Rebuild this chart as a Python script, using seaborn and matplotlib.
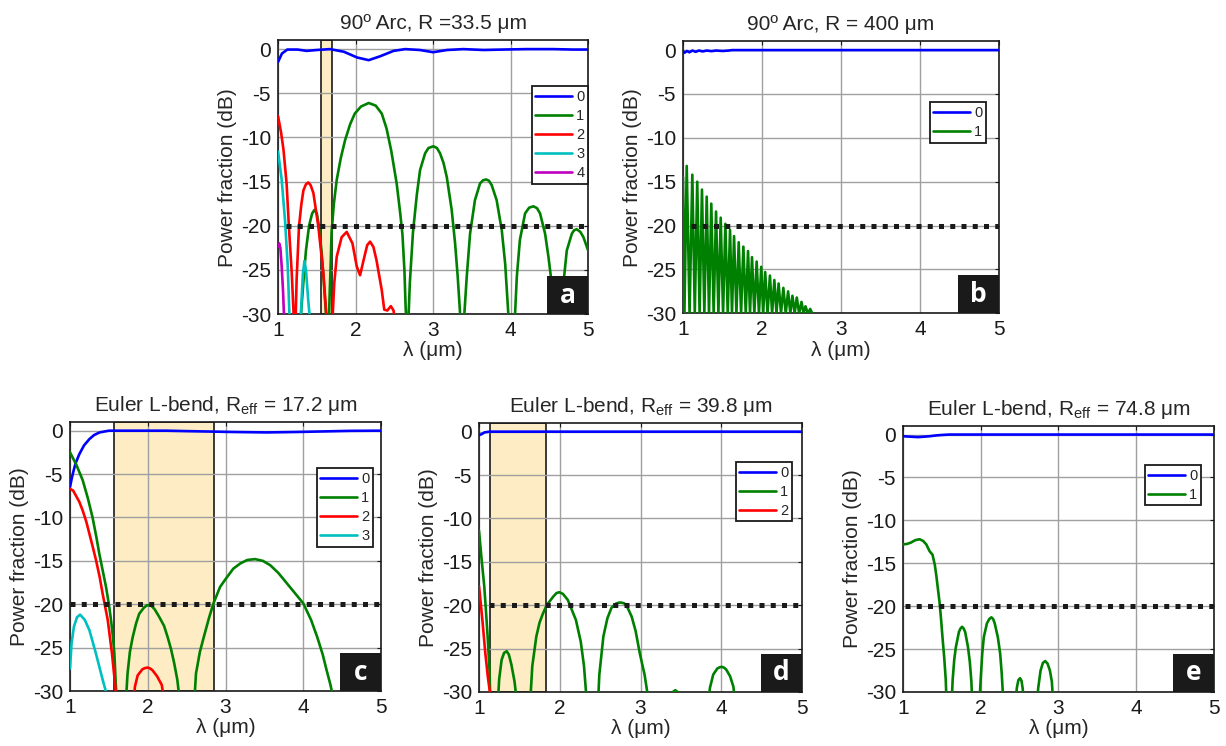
import numpy as np
import pandas as pd
import seaborn as sns
import matplotlib.pyplot as plt
from matplotlib.patches import Rectangle

# ---------------- data (lambda in um, power fraction in dB) ----------------
# panel a : 90 deg arc, R = 33.5 um
a0_lam = [1.0, 1.05, 1.12, 1.25, 1.37, 1.5, 1.67, 1.85, 2.02, 2.17, 2.32, 2.49, 2.64, 2.83, 3.0, 3.18, 3.39, 3.65, 3.9, 4.2, 4.55, 4.8, 5.0]
a0_db = [-1.45, -0.5, -0.05, -0.05, -0.2, -0.1, 0.0, -0.3, -0.95, -1.25, -0.8, -0.2, 0.0, -0.1, -0.35, -0.1, 0.0, -0.1, -0.05, 0.0, 0.0, -0.05, -0.05]
a1_lam = [1.29, 1.30, 1.33, 1.36, 1.40, 1.44, 1.47, 1.50, 1.53, 1.56, 1.59, 1.615, 1.625,
          1.655, 1.665, 1.68, 1.69, 1.72, 1.757, 1.81, 1.865, 1.93, 1.99, 2.07, 2.17, 2.26, 2.338, 2.40, 2.46, 2.53,
          2.575, 2.605, 2.63, 2.645, 2.655,
          2.68, 2.70, 2.74, 2.79, 2.832, 2.897, 2.94, 3.004, 3.05, 3.09, 3.135, 3.177, 3.24, 3.284, 3.318, 3.348, 3.36,
          3.395, 3.404, 3.434, 3.477, 3.54, 3.606, 3.645, 3.684, 3.72, 3.756, 3.82, 3.886, 3.93, 3.97, 3.98,
          4.04, 4.058, 4.08, 4.12, 4.187, 4.24, 4.294, 4.34, 4.38, 4.445, 4.488, 4.52, 4.55, 4.56,
          4.665, 4.675, 4.69, 4.725, 4.79, 4.82, 4.854, 4.90, 4.94, 5.0]
a1_db = [-31, -29.5, -26, -22.8, -20.0, -18.6, -18.2, -18.6, -20.2, -22.8, -26.3, -29.5, -31,
         -31, -28, -24, -20.8, -17.5, -14.8, -12.3, -10.3, -8.5, -7.3, -6.5, -6.1, -6.4, -7.3, -9.0, -11.5, -15.2,
         -18.5, -21.0, -25, -29, -31,
         -31, -26.5, -20.8, -16.5, -13.7, -11.8, -11.2, -11.0, -11.2, -11.8, -12.9, -14.5, -18.2, -22.0, -25.8, -29.9, -31,
         -31, -29.9, -25.8, -20.9, -17.1, -15.2, -14.85, -14.76, -14.9, -15.4, -17.1, -20.5, -24.3, -29.9, -31,
         -31, -29.9, -25.8, -21.6, -18.6, -17.95, -17.8, -18.0, -18.6, -20.9, -23.5, -25.8, -29.9, -31,
         -31, -29.9, -25.8, -22.8, -20.9, -20.5, -20.4, -20.7, -21.3, -22.8]
a2_lam = [1.0, 1.04, 1.07, 1.11, 1.14, 1.177, 1.20, 1.21,
          1.225, 1.24, 1.27, 1.30, 1.327, 1.36, 1.39, 1.42, 1.456, 1.52, 1.585, 1.63,
          1.70, 1.725, 1.757, 1.82, 1.886, 1.96, 2.015, 2.058, 2.114, 2.15, 2.187, 2.23, 2.27, 2.338, 2.37, 2.41, 2.455, 2.49, 2.51]
a2_db = [-7.6, -9.5, -11.4, -15.2, -20.1, -25.4, -29.9, -31,
         -31, -26, -20.1, -17.6, -16.0, -15.3, -15.1, -15.4, -16.3, -20.1, -25.4, -31,
         -31, -26.5, -23.5, -21.3, -20.7, -22.0, -24.6, -25.6, -23.5, -22.2, -21.8, -22.4, -23.9, -27.3, -29.5, -29.6, -29.1, -29.6, -31]
a3_lam = [1.0, 1.047, 1.09, 1.125, 1.146, 1.16, 1.29, 1.30, 1.32, 1.34, 1.36, 1.39, 1.415]
a3_db = [-11.6, -14.8, -19.4, -24.6, -29.9, -31, -31, -29, -25.5, -24.0, -25, -28.5, -31]
a4_lam = [1.0, 1.015, 1.03, 1.047, 1.065, 1.08]
a4_db = [-22.4, -22.0, -22.5, -24.6, -27.5, -31]

# panel b : 90 deg arc, R = 400 um
b0_lam = [1.0, 1.02, 1.05, 1.08, 1.12, 1.16, 1.2, 1.25, 1.3, 1.36, 1.42, 1.5, 1.58, 1.62, 5.0]
b0_db = [-0.1, -0.3, -0.1, -0.25, -0.05, -0.2, -0.05, -0.15, -0.05, -0.12, -0.05, -0.1, -0.05, 0.0, 0.0]
b1_peak_lam = [1.0, 1.047, 1.118, 1.18, 1.24, 1.30, 1.358, 1.418, 1.477, 1.536, 1.595, 1.646, 1.705, 1.764, 1.823,
               1.873, 1.932, 1.99, 2.04, 2.10, 2.156, 2.21, 2.27, 2.33, 2.385, 2.44, 2.50, 2.55, 2.61]
b1_peak_db = [-14.5, -13.2, -14.2, -15.0, -15.9, -16.7, -17.5, -18.4, -19.1, -19.8, -20.5, -21.2, -21.9, -22.4, -22.9,
              -23.6, -24.1, -24.7, -25.3, -25.7, -26.2, -26.6, -27.1, -27.5, -28.0, -28.2, -28.7, -29.2, -29.5]
b1_null_lam = [1.018, 1.083, 1.149, 1.21, 1.27, 1.329, 1.388, 1.448, 1.507, 1.566, 1.62, 1.676, 1.735, 1.794, 1.848,
               1.903, 1.961, 2.015, 2.07, 2.128, 2.183, 2.24, 2.30, 2.358, 2.413, 2.47, 2.525, 2.58, 2.635]
b1_null_db = -30

# panel c : Euler L-bend, Reff = 17.2 um
c0_lam = [1.0, 1.02, 1.035, 1.07, 1.12, 1.18, 1.25, 1.31, 1.38, 1.5, 1.815, 2.24, 2.5, 2.8, 3.1, 3.53, 3.9, 4.18, 4.6, 5.0]
c0_db = [-6.5, -5.6, -5.0, -3.8, -2.7, -1.7, -0.96, -0.5, -0.2, 0.0, 0.0, 0.0, -0.05, -0.1, -0.15, -0.2, -0.15, -0.1, -0.02, 0.0]
c1_lam = [1.0, 1.08, 1.163, 1.23, 1.29, 1.34, 1.377, 1.42, 1.463, 1.50, 1.527, 1.55, 1.57, 1.59, 1.60,
          1.72, 1.74, 1.77, 1.806, 1.85, 1.89, 1.95, 1.985, 2.02, 2.055, 2.09, 2.15, 2.21, 2.256, 2.30, 2.34, 2.38, 2.41,
          2.60, 2.62, 2.67, 2.72, 2.79, 2.845, 2.93, 3.017, 3.10, 3.19, 3.28, 3.38, 3.48, 3.575, 3.68, 3.79, 3.90,
          4.0, 4.10, 4.18, 4.25, 4.30, 4.35, 4.39]
c1_db = [-2.5, -3.9, -5.7, -7.8, -10.0, -12.3, -14.2, -16.1, -18.0, -20.0, -21.8, -23.6, -25.6, -29.5, -31,
         -31, -28, -25.5, -23.8, -22.2, -21.1, -20.4, -20.15, -20.1, -20.25, -20.6, -21.5, -22.5, -23.8, -25.2, -26.8, -28.7, -31,
         -31, -28, -25.5, -23.8, -21.5, -19.9, -18.0, -16.9, -15.9, -15.3, -14.9, -14.8, -15.0, -15.5, -16.4, -17.6, -18.8,
         -19.9, -21.8, -23.8, -25.8, -27.6, -29.3, -31]
c2_lam = [1.0, 1.04, 1.077, 1.12, 1.163, 1.21, 1.25, 1.29, 1.334, 1.38, 1.42, 1.485, 1.54, 1.583, 1.595,
          1.82, 1.835, 1.87, 1.93, 1.965, 2.0, 2.03, 2.06, 2.12, 2.18, 2.21]
c2_db = [-6.7, -6.9, -7.5, -8.2, -9.2, -10.5, -11.9, -13.3, -14.9, -16.8, -18.8, -21.8, -25.7, -29.5, -31,
         -31, -29.5, -28.2, -27.5, -27.35, -27.3, -27.4, -27.6, -28.3, -29.3, -31]
c3_lam = [1.0, 1.02, 1.05, 1.09, 1.13, 1.19, 1.25, 1.334, 1.42, 1.46, 1.47]
c3_db = [-27.4, -24.5, -22.6, -21.5, -21.2, -21.8, -23.0, -25.7, -28.7, -30.0, -31]

# panel d : Euler L-bend, Reff = 39.8 um
d0_lam = [1.0, 1.03, 1.07, 1.13, 5.0]
d0_db = [-0.4, -0.3, -0.08, 0.0, 0.0]
d1_lam = [1.0, 1.03, 1.065, 1.085, 1.107, 1.13, 1.14,
          1.235, 1.25, 1.28, 1.31, 1.343, 1.37, 1.40, 1.44, 1.467,
          1.635, 1.66, 1.71, 1.75, 1.79, 1.838, 1.92, 1.96, 1.995, 2.04, 2.10, 2.20, 2.26, 2.30, 2.325, 2.335,
          2.475, 2.49, 2.54, 2.59, 2.64, 2.70, 2.735, 2.766, 2.80, 2.83, 2.89, 2.94, 2.99, 3.05, 3.10,
          3.38, 3.40, 3.43, 3.46, 3.48,
          3.84, 3.86, 3.90, 3.95, 3.98, 4.007, 4.035, 4.06, 4.11, 4.15, 4.17]
d1_db = [-11.4, -14.5, -17.8, -20.5, -23.6, -27.5, -31,
         -31, -28.5, -26.3, -25.5, -25.3, -25.7, -26.8, -28.8, -31,
         -31, -27, -23.6, -22.0, -21.0, -20.0, -19.0, -18.6, -18.5, -18.7, -19.4, -21.7, -24.2, -27.0, -30.0, -31,
         -31, -28, -23.6, -21.5, -20.3, -19.8, -19.7, -19.7, -19.8, -20.1, -21.3, -23.0, -25.5, -28.0, -31,
         -31, -30.0, -29.8, -30.0, -31,
         -31, -29.5, -28.0, -27.3, -27.15, -27.1, -27.2, -27.4, -28.2, -29.4, -31]
d2_lam = [1.0, 1.04, 1.078, 1.11, 1.135, 1.15]
d2_db = [-17.8, -21.5, -25.5, -28.3, -30.0, -31]

# panel e : Euler L-bend, Reff = 74.8 um
e0_lam = [1.0, 1.1, 1.19, 1.27, 1.34, 1.43, 1.515, 1.6, 5.0]
e0_db = [-0.2, -0.25, -0.3, -0.25, -0.2, -0.1, -0.04, 0.0, 0.0]
e1_lam = [1.0, 1.05, 1.1, 1.16, 1.215, 1.26, 1.30, 1.343, 1.38, 1.41, 1.43, 1.45, 1.47, 1.49, 1.51, 1.53, 1.55, 1.56,
          1.627, 1.64, 1.66, 1.68, 1.72, 1.74, 1.76, 1.78, 1.80, 1.837, 1.86, 1.88, 1.89,
          1.985, 2.0, 2.02, 2.04, 2.08, 2.11, 2.137, 2.16, 2.18, 2.22, 2.25, 2.27, 2.29,
          2.45, 2.465, 2.485, 2.506, 2.525, 2.54, 2.55,
          2.725, 2.74, 2.77, 2.80, 2.83, 2.86, 2.89, 2.915, 2.93]
e1_db = [-12.8, -12.75, -12.6, -12.3, -12.2, -12.4, -12.8, -13.6, -14.0, -15.2, -16.5, -18.0, -19.5, -21.5, -23.8, -25.9, -28.5, -31,
         -31, -28.5, -26.2, -24.8, -23.0, -22.6, -22.4, -22.6, -23.0, -24.8, -26.5, -28.8, -31,
         -31, -28.5, -25.5, -23.6, -22.0, -21.5, -21.3, -21.5, -22.0, -23.6, -25.5, -27.8, -31,
         -31, -29.5, -28.6, -28.4, -28.7, -29.6, -31,
         -31, -29.5, -27.5, -26.6, -26.4, -26.7, -27.5, -28.8, -31]

threshold_db = -20
mode_colors = ['#0000ff', '#008000', '#ff0000', '#00bfbf', '#bf00bf']

titles = ['90º Arc, R =33.5 μm', '90º Arc, R = 400 μm',
          r'Euler L-bend, R$_{\rm eff}$ = 17.2 μm', r'Euler L-bend, R$_{\rm eff}$ = 39.8 μm',
          r'Euler L-bend, R$_{\rm eff}$ = 74.8 μm']
letters = ['a', 'b', 'c', 'd', 'e']
bands = [(1.555, 1.70), None, (1.56, 2.85), (1.14, 1.83), None]
thr_start = [1.1, 1.1, 1.0, 1.13, 1.03]

# b mode 1: merge peaks and nulls along lambda
b1 = pd.DataFrame({'lam': b1_peak_lam + b1_null_lam,
                   'db': b1_peak_db + [b1_null_db] * len(b1_null_lam)}).sort_values('lam')

series = [
    [(a0_lam, a0_db), (a1_lam, a1_db), (a2_lam, a2_db), (a3_lam, a3_db), (a4_lam, a4_db)],
    [(b0_lam, b0_db), (list(b1['lam']), list(b1['db']))],
    [(c0_lam, c0_db), (c1_lam, c1_db), (c2_lam, c2_db), (c3_lam, c3_db)],
    [(d0_lam, d0_db), (d1_lam, d1_db), (d2_lam, d2_db)],
    [(e0_lam, e0_db), (e1_lam, e1_db)],
]

# ---------------- layout (figure fractions) ----------------
rects = [[0.2268, 0.579, 0.2529, 0.367],
         [0.5571, 0.580, 0.2578, 0.3646],
         [0.0571, 0.0737, 0.2537, 0.3606],
         [0.3907, 0.0724, 0.2635, 0.3606],
         [0.7365, 0.0724, 0.2537, 0.3566]]
legend_anchor = [(1.0, 0.832), (0.959, 0.776), (0.974, 0.829), (0.969, 0.855), (0.958, 0.853)]

sns.set_theme(style='white')
plt.rcParams['font.family'] = ['Liberation Sans', 'DejaVu Sans']
plt.rcParams['mathtext.fontset'] = 'custom'
plt.rcParams['mathtext.rm'] = 'Liberation Sans'
plt.rcParams['axes.unicode_minus'] = False

fig = plt.figure(figsize=(12.26, 7.46), dpi=100)

for i in range(5):
    ax = fig.add_axes(rects[i])
    handles = []
    for m, (lam, db) in enumerate(series[i]):
        sns.lineplot(x=lam, y=db, ax=ax, color=mode_colors[m], lw=1.9, sort=False,
                     estimator=None, zorder=3)
        handles.append(ax.lines[-1])
    if bands[i] is not None:
        ax.axvspan(bands[i][0], bands[i][1], facecolor='#fdecc4', edgecolor='k', lw=1.2, zorder=1)
    ax.hlines(threshold_db, thr_start[i], 5, colors='k', lw=3.6, linestyles=(0, (1, 1.25)), zorder=4)

    ax.set_xlim(1, 5)
    ax.set_ylim(-30, 1)
    ax.set_xticks([1, 2, 3, 4, 5])
    ax.set_yticks([0, -5, -10, -15, -20, -25, -30])
    ax.set_xticklabels(['1', '2', '3', '4', '5'])
    ax.set_yticklabels(['0', '-5', '-10', '-15', '-20', '-25', '-30'])
    ax.set_axisbelow('line')
    ax.grid(True, color='#a0a0a0', lw=1.0)
    ax.tick_params(direction='in', top=True, right=True, length=3, width=0.8,
                   labelsize=15, pad=5, colors='k')
    for s in ax.spines.values():
        s.set_color('k')
        s.set_linewidth(1.2)
    ax.set_xlabel('λ (μm)', fontsize=15, labelpad=1)
    ax.set_ylabel('Power fraction (dB)', fontsize=15, labelpad=3)
    ax.set_title(titles[i], fontsize=15, pad=8)

    leg = ax.legend(handles, [str(k) for k in range(len(handles))], loc='upper right',
                    bbox_to_anchor=legend_anchor[i], fontsize=10.5, frameon=True, fancybox=False,
                    framealpha=1, edgecolor='k', borderpad=0.25, handlelength=2.5,
                    handletextpad=0.3, labelspacing=0.35, borderaxespad=0)
    leg.get_frame().set_linewidth(1.3)
    leg.set_zorder(7)

    # panel letter box in lower right corner
    pos = ax.get_position()
    w = 41 / (pos.width * 1226)
    h = 38 / (pos.height * 746)
    ax.add_patch(Rectangle((1 - w, 0), w, h, transform=ax.transAxes, facecolor='k',
                           edgecolor='none', zorder=8, clip_on=False))
    ax.text(1 - w / 2, h / 2, letters[i], transform=ax.transAxes, color='w', fontsize=19,
            fontweight='bold', ha='center', va='center', family='Open Sans', zorder=9)

fig.savefig('out.png', dpi=100)
